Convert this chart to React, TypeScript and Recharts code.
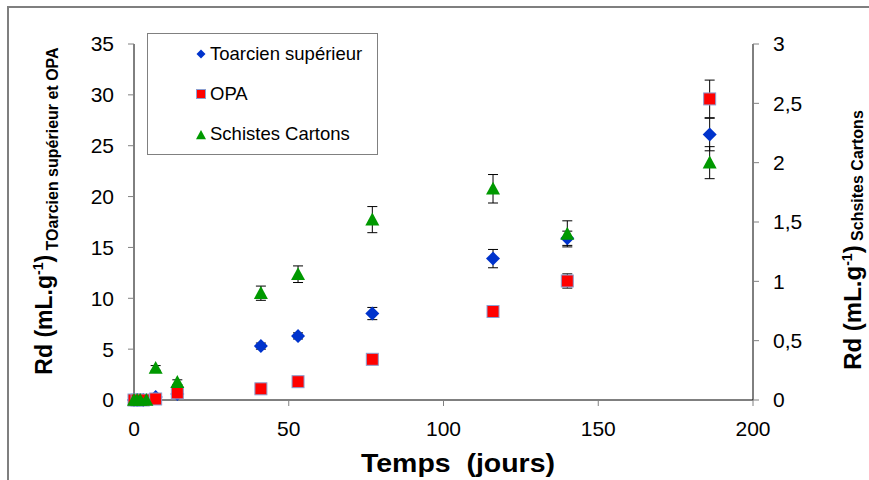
import React from "react";
import {
  ScatterChart,
  Scatter,
  XAxis,
  YAxis,
  ErrorBar,
  Legend
} from "recharts";

// Temps (jours) et Rd par matériau
const toarcienJours = [0, 1, 3, 7, 14, 41, 53, 77, 116, 140, 186];
const toarcienRd = [0, 0, 0, 0.3, 0.6, 5.3, 6.3, 8.5, 13.9, 15.9, 26.1];
const toarcienErr = [0, 0, 0, 0.1, 0.1, 0.3, 0.3, 0.6, 0.9, 0.7, 1.6];

const opaJours = [0, 1, 3, 7, 14, 41, 53, 77, 116, 140, 186];
const opaRd = [0, 0, 0, 0.1, 0.7, 1.1, 1.8, 4.0, 8.7, 11.7, 29.6];
const opaErr = [0, 0, 0, 0, 0.1, 0.2, 0.2, 0.3, 0.4, 0.7, 1.85];

const schistesJours = [0, 1, 2, 4, 7, 14, 41, 53, 77, 116, 140, 186];
const schistesRd = [0, 0, 0, 0, 0.27, 0.15, 0.9, 1.06, 1.52, 1.78, 1.4, 2.0];
const schistesErr = [0, 0, 0, 0, 0.02, 0.02, 0.06, 0.07, 0.11, 0.12, 0.11, 0.135];

const xTicks = [0, 50, 100, 150, 200];
const leftTicks = [0, 5, 10, 15, 20, 25, 30, 35];
const rightTicks = [0, 0.5, 1, 1.5, 2, 2.5, 3];

const FONT = "'Liberation Sans', Arial, sans-serif";
const BLUE = "#0033CC";
const RED = "#FF0000";
const GREEN = "#009900";

const build = (xs: number[], ys: number[], errs: number[]) =>
  xs.map((x, i) => ({ x, y: ys[i], err: errs[i] }));

const toarcienData = build(toarcienJours, toarcienRd, toarcienErr);
const opaData = build(opaJours, opaRd, opaErr);
const schistesData = build(schistesJours, schistesRd, schistesErr);

// marker shapes
const Diamond = ({ cx, cy, r = 7 }: any) => (
  <polygon
    points={`${cx},${cy - r} ${cx + r},${cy} ${cx},${cy + r} ${cx - r},${cy}`}
    fill={BLUE}
  />
);

const Square = ({ cx, cy, s = 12 }: any) => (
  <rect x={cx - s / 2} y={cy - s / 2} width={s} height={s} fill={RED} stroke="#8C9FD0" strokeWidth={1} />
);

const Triangle = ({ cx, cy, w = 14 }: any) => {
  const h = w * 0.92;
  return (
    <polygon
      points={`${cx},${cy - h * 0.55} ${cx + w / 2},${cy + h * 0.45} ${cx - w / 2},${cy + h * 0.45}`}
      fill={GREEN}
    />
  );
};

const Nothing = () => <g />;

const legendItems = ["Toarcien supérieur", "OPA", "Schistes Cartons"];

const LegendBox = () => (
  <div
    style={{
      width: 229,
      height: 120,
      border: "1px solid #808080",
      background: "#fff",
      fontFamily: FONT,
      fontSize: 18.5,
      color: "#000",
      position: "relative"
    }}
  >
    {legendItems.map((name, i) => (
      <div
        key={name}
        style={{ position: "absolute", left: 46, top: 9 + i * 40, display: "flex", alignItems: "center", whiteSpace: "nowrap" }}
      >
        <svg width={14} height={20} style={{ marginRight: 2 }}>
          {i === 0 && <Diamond cx={7} cy={10} r={4.5} />}
          {i === 1 && <Square cx={7} cy={10} s={9} />}
          {i === 2 && <Triangle cx={7} cy={11} w={10} />}
        </svg>
        <span>{name}</span>
      </div>
    ))}
  </div>
);

const LeftTitle = () => (
  <text
    transform="translate(52, 211) rotate(-90)"
    textAnchor="middle"
    fontFamily={FONT}
    fontWeight="bold"
    fill="#000"
  >
    <tspan fontSize={23}>Rd (mL.g</tspan>
    <tspan fontSize={14} dy={-9}>-1</tspan>
    <tspan fontSize={23} dy={9}>)</tspan>
    <tspan fontSize={16} dy={6}> TOarcien supérieur et OPA</tspan>
  </text>
);

const RightTitle = () => (
  <text
    transform="translate(861, 240) rotate(-90)"
    textAnchor="middle"
    fontFamily={FONT}
    fontWeight="bold"
    fill="#000"
  >
    <tspan fontSize={24}>Rd (mL.g</tspan>
    <tspan fontSize={14} dy={-9}>-1</tspan>
    <tspan fontSize={24} dy={9}>)</tspan>
    <tspan fontSize={16} dy={2}> Schsites Cartons</tspan>
  </text>
);

const BottomTitle = () => (
  <text
    x={458}
    y={472}
    textAnchor="middle"
    fontFamily={FONT}
    fontWeight="bold"
    fontSize={26}
    fill="#000"
    textLength={194}
    lengthAdjust="spacingAndGlyphs"
  >
    {"Temps\u00a0 (jours)"}
  </text>
);

const tickStyle = { fill: "#000", fontSize: 21, fontFamily: FONT };

const series = [
  { name: "Toarcien supérieur", data: toarcienData, axis: "left", fill: BLUE, Marker: Diamond },
  { name: "OPA", data: opaData, axis: "left", fill: RED, Marker: Square },
  { name: "Schistes Cartons", data: schistesData, axis: "right", fill: GREEN, Marker: Triangle }
];

export default function App() {
  return (
    <div style={{ position: "absolute", left: 0, top: 0, width: 869, height: 480, background: "#fff" }}>
      {/* cadre du graphique */}
      <div
        style={{
          position: "absolute",
          left: 7,
          top: 6,
          right: 0,
          bottom: 0,
          borderTop: "2px solid #7f7f7f",
          borderLeft: "2px solid #7f7f7f"
        }}
      />
      <ScatterChart width={869} height={480} margin={{ top: 44, right: 0, bottom: 0, left: 0 }}>
        <XAxis
          type="number"
          dataKey="x"
          domain={[0, 200]}
          ticks={xTicks}
          height={80}
          stroke="#000"
          tick={tickStyle}
          tickLine={{ stroke: "#808080" }}
          tickSize={6}
          tickMargin={15}
          label={<BottomTitle />}
        />
        <YAxis
          yAxisId="left"
          type="number"
          dataKey="y"
          domain={[0, 35]}
          ticks={leftTicks}
          width={134}
          stroke="#000"
          tick={tickStyle}
          tickLine={{ stroke: "#808080" }}
          tickSize={6}
          tickMargin={14}
          label={<LeftTitle />}
        />
        <YAxis
          yAxisId="right"
          orientation="right"
          type="number"
          dataKey="y"
          domain={[0, 3]}
          ticks={rightTicks}
          width={116}
          stroke="#000"
          tick={tickStyle}
          tickLine={{ stroke: "#808080" }}
          tickSize={6}
          tickMargin={14}
          tickFormatter={(v: number) => String(v).replace(".", ",")}
          label={<RightTitle />}
        />
        <Legend
          layout="vertical"
          align="center"
          verticalAlign="middle"
          content={() => <LegendBox />}
          wrapperStyle={{ left: 147, top: 33, width: 231, height: 122 }}
        />
        {/* barres d'erreur d'abord, symboles par-dessus */}
        {series.map((s) => (
          <Scatter
            key={s.name + "-err"}
            name={s.name + " err"}
            data={s.data}
            yAxisId={s.axis}
            fill={s.fill}
            shape={Nothing}
            legendType="none"
            isAnimationActive={false}
          >
            <ErrorBar dataKey="err" direction="y" width={5} stroke="#000" strokeWidth={1} />
          </Scatter>
        ))}
        {series.map((s) => (
          <Scatter
            key={s.name}
            name={s.name}
            data={s.data}
            yAxisId={s.axis}
            fill={s.fill}
            shape={(p: any) => <s.Marker cx={p.cx} cy={p.cy} />}
            isAnimationActive={false}
          />
        ))}
      </ScatterChart>
    </div>
  );
}
